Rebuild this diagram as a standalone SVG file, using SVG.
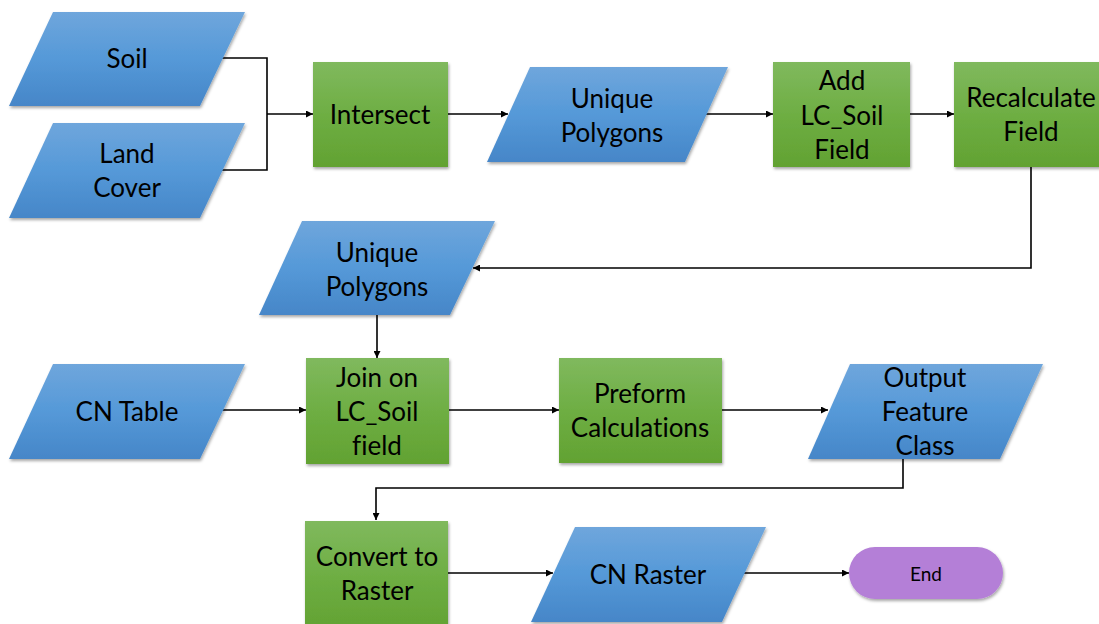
<svg xmlns="http://www.w3.org/2000/svg" width="1099" height="624" viewBox="0 0 1099 624">
  <defs>
    <linearGradient id="gBlue" x1="0" y1="0" x2="0" y2="1">
      <stop offset="0" stop-color="#6fa6dc"/>
      <stop offset="0.5" stop-color="#5599d8"/>
      <stop offset="1" stop-color="#4686c8"/>
    </linearGradient>
    <linearGradient id="gGreen" x1="0" y1="0" x2="0" y2="1">
      <stop offset="0" stop-color="#80b95e"/>
      <stop offset="0.5" stop-color="#6eae43"/>
      <stop offset="1" stop-color="#62a232"/>
    </linearGradient>
    <filter id="shadow" x="-10%" y="-10%" width="120%" height="130%">
      <feDropShadow dx="1" dy="2" stdDeviation="1.5" flood-color="#000" flood-opacity="0.35"/>
    </filter>
    <marker id="arrow" viewBox="0 0 10 10" refX="10" refY="5" markerWidth="7" markerHeight="7" markerUnits="userSpaceOnUse" orient="auto">
      <path d="M0,0 L10,5 L0,10 z" fill="#000"/>
    </marker>
  </defs>
  <style>
    .data { fill: url(#gBlue); filter: url(#shadow); }
    .proc { fill: url(#gGreen); filter: url(#shadow); }
    .term { fill: #b47fd7; filter: url(#shadow); }
    .lbl { font-family: Lato, "Liberation Sans", sans-serif; font-size: 26px; fill: #000; text-anchor: middle; font-variant-ligatures: none; }
    .small { font-size: 19px; }
    .wire { fill: none; stroke: #000; stroke-width: 1.6; }
    .wire.arr { marker-end: url(#arrow); }
  </style>
  <rect width="1099" height="624" fill="#fff"/>

  <!-- connectors -->
  <g id="connectors">
    <path class="wire" d="M222,58 H267 V170 H222"/>
    <path class="wire arr" d="M267,114 H313"/>
    <path class="wire arr" d="M448,114 H508"/>
    <path class="wire arr" d="M705,114 H773"/>
    <path class="wire arr" d="M910,114 H954"/>
    <path class="wire arr" d="M1031,167 V268 H473"/>
    <path class="wire arr" d="M377,315 V358"/>
    <path class="wire arr" d="M222,410 H306"/>
    <path class="wire arr" d="M449,410 H559"/>
    <path class="wire arr" d="M722,410 H828"/>
    <path class="wire arr" d="M903,459 V488 H376 V520"/>
    <path class="wire arr" d="M448,573 H553"/>
    <path class="wire arr" d="M744,573 H849"/>
  </g>

  <g id="soil">
    <polygon class="data" points="53,12 245,12 200,106 9,106"/>
    <text class="lbl" x="127" y="68">Soil</text>
  </g>
  <g id="land-cover">
    <polygon class="data" points="53,123 245,123 200,218 9,218"/>
    <text class="lbl" x="127" y="163">Land</text>
    <text class="lbl" x="127" y="197">Cover</text>
  </g>
  <g id="intersect">
    <rect class="proc" x="313" y="62" width="135" height="105"/>
    <text class="lbl" x="380" y="124">Intersect</text>
  </g>
  <g id="unique-polygons-1">
    <polygon class="data" points="530,67 728,67 685,162 487,162"/>
    <text class="lbl" x="612" y="108">Unique</text>
    <text class="lbl" x="612" y="142">Polygons</text>
  </g>
  <g id="add-field">
    <rect class="proc" x="773" y="62" width="137" height="105"/>
    <text class="lbl" x="842" y="90">Add</text>
    <text class="lbl" x="842" y="125">LC_Soil</text>
    <text class="lbl" x="842" y="159">Field</text>
  </g>
  <g id="recalculate-field">
    <rect class="proc" x="954" y="62" width="154" height="105"/>
    <text class="lbl" x="1031" y="107">Recalculate</text>
    <text class="lbl" x="1031" y="141">Field</text>
  </g>
  <g id="unique-polygons-2">
    <polygon class="data" points="302,221 495,221 450,315 259,315"/>
    <text class="lbl" x="377" y="262">Unique</text>
    <text class="lbl" x="377" y="296">Polygons</text>
  </g>
  <g id="cn-table">
    <polygon class="data" points="53,364 245,364 200,459 9,459"/>
    <text class="lbl" x="127" y="421">CN Table</text>
  </g>
  <g id="join">
    <rect class="proc" x="306" y="358" width="143" height="106"/>
    <text class="lbl" x="377" y="387">Join on</text>
    <text class="lbl" x="377" y="421">LC_Soil</text>
    <text class="lbl" x="377" y="455">field</text>
  </g>
  <g id="preform-calculations">
    <rect class="proc" x="559" y="358" width="163" height="105"/>
    <text class="lbl" x="640" y="403">Preform</text>
    <text class="lbl" x="640" y="437">Calculations</text>
  </g>
  <g id="output-feature-class">
    <polygon class="data" points="850,364 1043,364 1000,459 808,459"/>
    <text class="lbl" x="925" y="387">Output</text>
    <text class="lbl" x="925" y="421">Feature</text>
    <text class="lbl" x="925" y="455">Class</text>
  </g>
  <g id="convert-to-raster">
    <rect class="proc" x="305" y="521" width="143" height="110"/>
    <text class="lbl" x="377" y="566">Convert to</text>
    <text class="lbl" x="377" y="600">Raster</text>
  </g>
  <g id="cn-raster">
    <polygon class="data" points="575,527 766,527 722,622 531,622"/>
    <text class="lbl" x="648" y="584">CN Raster</text>
  </g>
  <g id="end">
    <rect class="term" x="849" y="547" width="154" height="52" rx="26" ry="26"/>
    <text class="lbl small" x="926" y="581">End</text>
  </g>
</svg>
